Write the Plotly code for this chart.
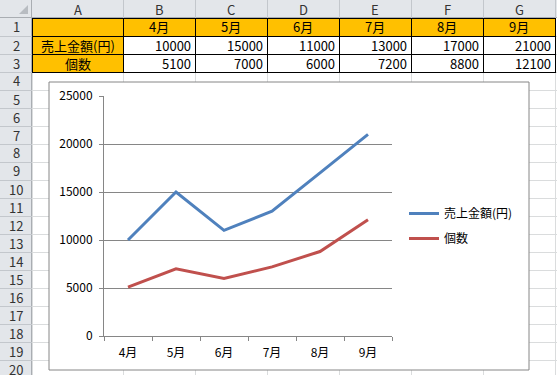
import plotly.graph_objects as go

# ---- data ----
months = ["4月", "5月", "6月", "7月", "8月", "9月"]
sales = [10000, 15000, 11000, 13000, 17000, 21000]
counts = [5100, 7000, 6000, 7200, 8800, 12100]
series_names = ["売上金額(円)", "個数"]
col_letters = ["A", "B", "C", "D", "E", "F", "G"]
row_numbers = list(range(1, 21))
y_ticks = [0, 5000, 10000, 15000, 20000, 25000]

W, H = 557, 375
FONT = "Noto Sans CJK JP, Noto Sans, sans-serif"


def px(x):
    return x / W


def py(y):
    return 1 - y / H


col_edges = [32, 123, 195, 267, 339, 411, 483, 555]
ROW_H = 18
HEAD_BG = "#E3E6EA"
HEAD_LINE = "#C3C7CC"
GRID = "#DADCDD"
ORANGE = "#FFC000"

shapes = []
annotations = []


def rect(x0, y0, x1, y1, fill, line=None, lw=0, layer="below"):
    shapes.append(dict(type="rect", xref="paper", yref="paper",
                       x0=px(x0), x1=px(x1), y0=py(y1), y1=py(y0),
                       fillcolor=fill, line=dict(color=line or fill, width=lw),
                       layer=layer))


def line(x0, y0, x1, y1, color, w=1, layer="below"):
    shapes.append(dict(type="line", xref="paper", yref="paper",
                       x0=px(x0), x1=px(x1), y0=py(y0), y1=py(y1),
                       line=dict(color=color, width=w), layer=layer))


def text(s, x, y, anchor="center", size=14, color="#000"):
    annotations.append(dict(text=s, xref="paper", yref="paper", x=px(x), y=py(y),
                            xanchor=anchor, yanchor="middle", showarrow=False,
                            font=dict(family=FONT, size=size, color=color)))


# sheet grid
for xe in col_edges:
    line(xe + 0.5, 18, xe + 0.5, H, GRID)
for r in range(2, 22):
    line(32, r * ROW_H + 0.5, W, r * ROW_H + 0.5, GRID)

# orange cells
rect(col_edges[0] + 1, 18, col_edges[-1], 36, ORANGE)
rect(col_edges[0] + 1, 36, col_edges[1], 72, ORANGE)

# black table borders
for xe in col_edges:
    line(xe + 0.5, 18, xe + 0.5, 72.5, "#000")
for yr in [18, 36, 54, 72]:
    line(col_edges[0], yr + 0.5, col_edges[-1] + 1, yr + 0.5, "#000")

# headers
rect(0, 0, W, 18, HEAD_BG)
rect(0, 0, 32, H, HEAD_BG)
line(0, 17.5, W, 17.5, "#A9ADB2")
line(31.5, 0, 31.5, H, "#A9ADB2")
for xe in col_edges[1:]:
    line(xe + 0.5, 0, xe + 0.5, 18, HEAD_LINE)
for r in range(2, 22):
    line(0, r * ROW_H + 0.5, 32, r * ROW_H + 0.5, HEAD_LINE)
shapes.append(dict(type="path", xref="paper", yref="paper",
                   path=f"M {px(28)} {py(5)} L {px(28)} {py(14)} L {px(19)} {py(14)} Z",
                   fillcolor="#B8BCC1", line=dict(width=0), layer="below"))

for i, c in enumerate(col_letters):
    text(c, (col_edges[i] + col_edges[i + 1]) / 2, 9, size=13, color="#333")
for r in row_numbers:
    text(str(r), 16, r * ROW_H + 9, size=13, color="#333")

# cell contents
for i, m in enumerate(months):
    text(m, (col_edges[i + 1] + col_edges[i + 2]) / 2, 27, size=13)
text(series_names[0], (col_edges[0] + col_edges[1]) / 2, 45, size=13)
text(series_names[1], (col_edges[0] + col_edges[1]) / 2, 63, size=13)
for i in range(len(months)):
    text(str(sales[i]), col_edges[i + 2] - 2, 45, anchor="right", size=13)
    text(str(counts[i]), col_edges[i + 2] - 2, 63, anchor="right", size=13)

# chart area
rect(49, 82, 529, 370, "#FFFFFF", line="#868686", lw=1)

fig = go.Figure()
fig.add_trace(go.Scatter(x=months, y=sales, name=series_names[0], mode="lines",
                         line=dict(color="#4F81BD", width=3), legendgroup="a"))
fig.add_trace(go.Scatter(x=months, y=counts, name=series_names[1], mode="lines",
                         line=dict(color="#C0504D", width=3), legendgroup="b"))

fig.update_layout(
    width=W, height=H, margin=dict(l=0, r=0, t=0, b=0, pad=0, autoexpand=False),
    paper_bgcolor="#FFFFFF", plot_bgcolor="rgba(0,0,0,0)",
    shapes=shapes, annotations=annotations,
    font=dict(family=FONT, size=12, color="#000"),
    xaxis=dict(domain=[px(104), px(392)], type="category", range=[-0.5, 5.5],
               showline=True, linecolor="#868686", linewidth=1,
               ticks="outside", tickson="boundaries", ticklen=4, tickcolor="#868686",
               ticklabelstandoff=6,
               showgrid=False, zeroline=False, tickfont=dict(size=12),
               automargin=False, fixedrange=True),
    yaxis=dict(domain=[py(336), py(96)], range=[0, 25000], tickvals=y_ticks,
               tickformat="d",
               showline=True, linecolor="#868686", linewidth=1,
               ticks="outside", ticklen=4, tickcolor="#868686",
               ticklabelstandoff=4,
               showgrid=True, gridcolor="#868686", gridwidth=1, zeroline=False,
               tickfont=dict(size=12), automargin=False, fixedrange=True),
    showlegend=True,
    legend=dict(x=px(404), y=py(199), xanchor="left", yanchor="top",
                bgcolor="rgba(0,0,0,0)", font=dict(size=12),
                tracegroupgap=6, itemwidth=30),
)

fig.write_html("out.html", config={"displayModeBar": False},
               post_script="document.body.style.margin='0';")
